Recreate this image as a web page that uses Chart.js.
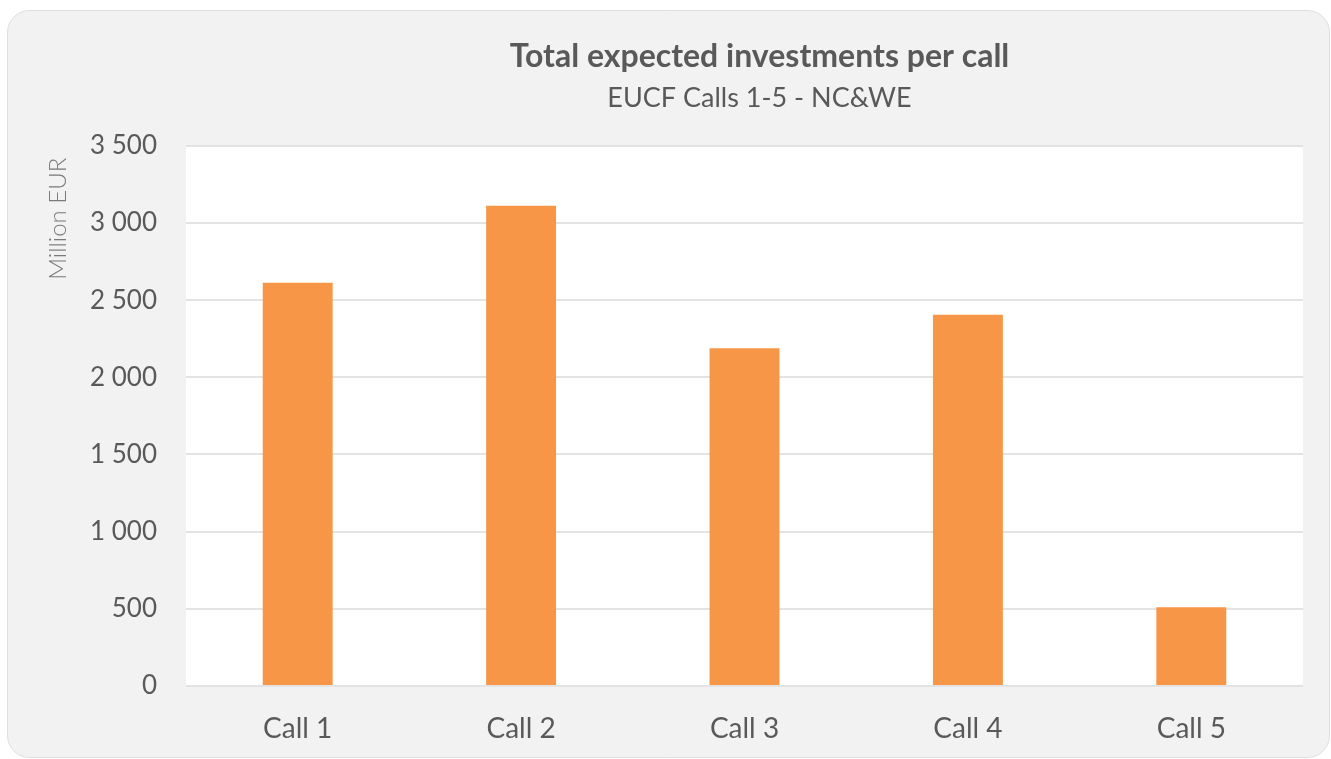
<!DOCTYPE html>
<html>
<head>
<meta charset="utf-8">
<script src="https://cdn.jsdelivr.net/npm/chart.js@4"></script>
<style>
  html, body { margin: 0; padding: 0; background: #ffffff; }
  #wrap { width: 1331px; height: 759px; }
</style>
</head>
<body>
<div id="wrap"><canvas id="myChart" width="1331" height="759"></canvas></div>
<script>
const categories = ['Call 1', 'Call 2', 'Call 3', 'Call 4', 'Call 5'];
const investments = [2613, 3112, 2188, 2405, 511];
const yTicks = [0, 500, 1000, 1500, 2000, 2500, 3000, 3500];

const textColor = '#595959';
const fontFamily = 'Lato, "Noto Sans", sans-serif';

// grey card with rounded corners + white plot area
const cardBg = {
    id: 'cardBg',
    afterLayout: (chart) => {
        // titles sit a bit right of the plot centre in the original
        chart.boxes.forEach(b => {
            if (b.options && b.options.text !== undefined && b.options.fullSize === false) {
                b.left += 15;
                b.right += 15;
            }
        });
    },
    beforeDraw: (chart) => {
        const c = chart.ctx;
        const x = 7.5, y = 10.5, w = 1322, h = 747, r = 22;
        c.save();
        c.beginPath();
        c.moveTo(x + r, y);
        c.lineTo(x + w - r, y);
        c.arcTo(x + w, y, x + w, y + r, r);
        c.lineTo(x + w, y + h - r);
        c.arcTo(x + w, y + h, x + w - r, y + h, r);
        c.lineTo(x + r, y + h);
        c.arcTo(x, y + h, x, y + h - r, r);
        c.lineTo(x, y + r);
        c.arcTo(x, y, x + r, y, r);
        c.closePath();
        c.fillStyle = '#f2f2f2';
        c.fill();
        c.strokeStyle = '#dedede';
        c.lineWidth = 1;
        c.stroke();
        const a = chart.chartArea;
        c.fillStyle = '#ffffff';
        c.fillRect(a.left, a.top, a.right - a.left, a.bottom - a.top);
        c.restore();
    }
};

const ctx = document.getElementById('myChart').getContext('2d');
const myChart = new Chart(ctx, {
    type: 'bar',
    data: {
        labels: categories,
        datasets: [{
            label: 'Total expected investments',
            data: investments,
            backgroundColor: '#f79646',
            borderWidth: 0,
            categoryPercentage: 1,
            barPercentage: 0.313
        }]
    },
    options: {
        responsive: false,
        animation: false,
        layout: {
            padding: { left: 8, right: 28, top: 10, bottom: 2 }
        },
        plugins: {
            legend: { display: false },
            tooltip: { enabled: false },
            title: {
                display: true,
                fullSize: false,
                text: 'Total expected investments per call',
                color: textColor,
                font: { family: fontFamily, size: 32, weight: 'bold' },
                padding: { top: 27, bottom: 0 }
            },
            subtitle: {
                display: true,
                fullSize: false,
                text: 'EUCF Calls 1-5 - NC&WE',
                color: textColor,
                font: { family: fontFamily, size: 27, weight: 'normal' },
                padding: { top: 7, bottom: 31 }
            }
        },
        scales: {
            x: {
                grid: { display: false, drawTicks: false },
                border: { display: false },
                ticks: {
                    color: textColor,
                    font: { family: fontFamily, size: 28 },
                    padding: 26
                },
                afterFit: (scale) => { scale.height = 71; }
            },
            y: {
                min: 0,
                max: 3500,
                afterBuildTicks: (scale) => {
                    scale.ticks = yTicks.map(v => ({ value: v }));
                },
                grid: {
                    color: '#e3e3e3',
                    lineWidth: 2,
                    drawTicks: false
                },
                border: { display: false },
                ticks: {
                    color: textColor,
                    font: { family: fontFamily, size: 26 },
                    padding: 29,
                    callback: (value) => value.toLocaleString('en-US').replace(',', ' ')
                },
                title: {
                    display: true,
                    text: 'Million EUR\u2002',
                    align: 'end',
                    color: '#7a7a7a',
                    font: { family: fontFamily, size: 24, weight: 300 },
                    padding: { top: 36, bottom: 0 }
                },
                afterFit: (scale) => { scale.width = 178; }
            }
        }
    },
    plugins: [cardBg]
});
</script>
</body>
</html>
